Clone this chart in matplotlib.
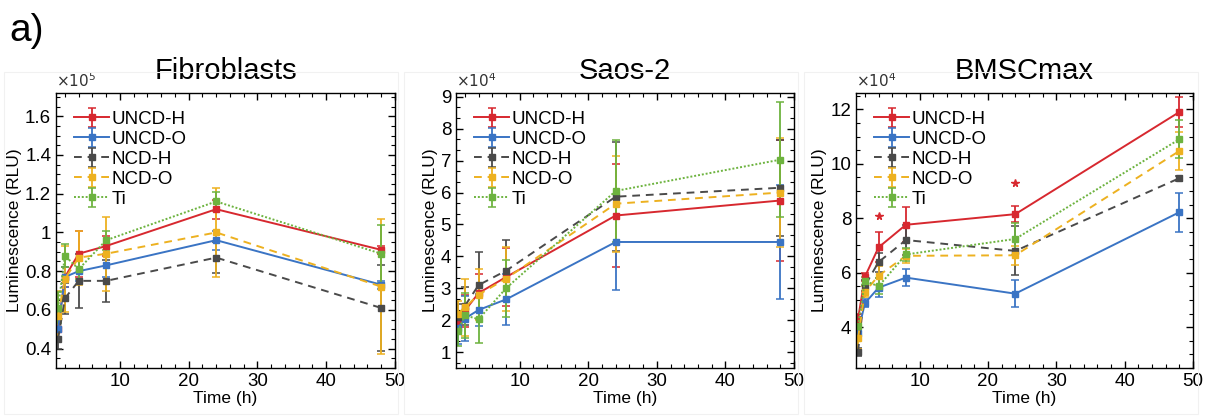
import numpy as np
import matplotlib
matplotlib.use("Agg")
from matplotlib import pyplot as plt
from matplotlib.ticker import MultipleLocator, AutoMinorLocator, FuncFormatter
from matplotlib.patches import Rectangle

plt.rcParams['font.family'] = ['Liberation Sans', 'DejaVu Sans']

time_h = [1, 2, 4, 8, 24, 48]
series_names = ["UNCD-H", "UNCD-O", "NCD-H", "NCD-O", "Ti"]

# Fibroblasts (x1e5 RLU)
fib_uncd_h = [0.50, 0.77, 0.89, 0.93, 1.12, 0.91]
fib_uncd_o = [0.50, 0.77, 0.80, 0.83, 0.96, 0.73]
fib_ncd_h = [0.45, 0.66, 0.75, 0.75, 0.87, 0.61]
fib_ncd_o = [0.57, 0.76, 0.87, 0.89, 1.00, 0.72]
fib_ti = [0.61, 0.88, 0.81, 0.96, 1.16, 0.89]
fib_uncd_h_err = [0.06, 0.05, 0.12, 0.05, 0.05, 0.02]
fib_uncd_o_err = [0.06, 0.05, 0.05, 0.06, 0.05, 0.02]
fib_ncd_h_err = [0.05, 0.08, 0.14, 0.11, 0.08, 0.22]
fib_ncd_o_err = [0.13, 0.17, 0.14, 0.19, 0.23, 0.35]
fib_ti_err = [0.08, 0.06, 0.05, 0.05, 0.05, 0.15]

# Saos-2 (x1e4 RLU)
sao_uncd_h = [1.90, 2.30, 2.85, 3.35, 5.28, 5.75]
sao_uncd_o = [1.75, 2.05, 2.32, 2.65, 4.45, 4.45]
sao_ncd_h = [2.10, 2.45, 3.10, 3.55, 5.87, 6.15]
sao_ncd_o = [2.20, 2.40, 2.80, 3.30, 5.65, 6.00]
sao_ti = [1.65, 2.15, 2.03, 3.00, 6.05, 7.03]
sao_uncd_h_err = [0.30, 0.50, 0.60, 0.90, 1.60, 1.90]
sao_uncd_o_err = [0.50, 0.70, 0.50, 0.80, 1.50, 1.80]
sao_ncd_h_err = [0.40, 0.60, 1.05, 0.95, 1.70, 1.50]
sao_ncd_o_err = [0.40, 0.90, 0.80, 1.00, 1.50, 1.70]
sao_ti_err = [0.45, 0.70, 0.75, 0.90, 1.60, 1.80]

# BMSCmax (x1e4 RLU)
bm_uncd_h = [4.30, 5.85, 6.93, 7.76, 8.15, 11.90]
bm_uncd_o = [3.80, 4.88, 5.45, 5.82, 5.23, 8.22]
bm_ncd_h = [3.10, 5.52, 6.39, 7.20, 6.80, 9.47]
bm_ncd_o = [3.60, 5.30, 5.89, 6.62, 6.64, 10.47]
bm_ti = [4.05, 5.70, 5.50, 6.67, 7.24, 10.90]
bm_uncd_h_err = [0.20, 0.15, 0.55, 0.65, 0.30, 0.55]
bm_uncd_o_err = [0.20, 0.15, 0.35, 0.30, 0.50, 0.72]
bm_ncd_h_err = [0.15, 0.20, 0.35, 0.55, 0.90, 0.10]
bm_ncd_o_err = [0.40, 0.20, 0.35, 0.25, 0.35, 0.70]
bm_ti_err = [0.30, 0.15, 0.30, 0.25, 0.60, 0.70]
bm_star_time = [4, 24]
bm_star_y = [8.1, 9.28]

colors = ['#D7282F', '#3A74C4', '#4A4A4A', '#EDB120', '#6DB33F']
styles = ['-', '-', (0, (4, 3)), (0, (4, 3)), (0, (1, 1))]

panels = [
    ("Fibroblasts", 5, [fib_uncd_h, fib_uncd_o, fib_ncd_h, fib_ncd_o, fib_ti],
     [fib_uncd_h_err, fib_uncd_o_err, fib_ncd_h_err, fib_ncd_o_err, fib_ti_err],
     (0.30, 1.72), 0.2, 4),
    ("Saos-2", 4, [sao_uncd_h, sao_uncd_o, sao_ncd_h, sao_ncd_o, sao_ti],
     [sao_uncd_h_err, sao_uncd_o_err, sao_ncd_h_err, sao_ncd_o_err, sao_ti_err],
     (0.5, 9.12), 1, 3),
    ("BMSCmax", 4, [bm_uncd_h, bm_uncd_o, bm_ncd_h, bm_ncd_o, bm_ti],
     [bm_uncd_h_err, bm_uncd_o_err, bm_ncd_h_err, bm_ncd_o_err, bm_ti_err],
     (2.5, 12.6), 2, 4),
]

W, H = 1209, 418
fig = plt.figure(figsize=(W / 100, H / 100), dpi=100)

lefts = [56, 456, 856]
rights = [395, 794, 1193]
top_px, bot_px = 93, 368

# faint frames around each panel
for i in range(3):
    fig.patches.append(Rectangle(((4 + 400 * i) / W, 4 / H), 394 / W, (H - 76) / H,
                                 transform=fig.transFigure, fill=False,
                                 edgecolor='#f1f1f1', linewidth=0.8))

fig.text(9 / W, 1 - 31 / H, "a)", fontsize=28, va='center', ha='left')

for i, (title, expo, ys, errs, ylim, major, nminor) in enumerate(panels):
    ax = fig.add_axes([lefts[i] / W, 1 - bot_px / H, (rights[i] - lefts[i]) / W,
                       (bot_px - top_px) / H])
    for k in range(5):
        ax.errorbar(time_h, ys[k], yerr=errs[k], color=colors[k], linestyle=styles[k],
                    linewidth=1.4, marker='s', markersize=4.5, capsize=2.8,
                    elinewidth=1.3, capthick=1.1, label=series_names[k])
    if title == "BMSCmax":
        ax.plot(bm_star_time, bm_star_y, linestyle='none', marker='*', color='#D7282F',
                markersize=5.5)
    ax.set_xlim(0.7, 50)
    ax.set_ylim(*ylim)
    ax.xaxis.set_major_locator(MultipleLocator(10))
    ax.xaxis.set_minor_locator(MultipleLocator(2))
    ax.yaxis.set_major_locator(MultipleLocator(major))
    ax.yaxis.set_minor_locator(AutoMinorLocator(nminor))
    ax.yaxis.set_major_formatter(FuncFormatter(lambda v, p: "%g" % round(v, 3)))
    ax.tick_params(which='both', direction='in', top=True, right=True, labelsize=13.5)
    ax.tick_params(which='major', length=5, width=1.0)
    ax.tick_params(which='minor', length=3, width=0.8)
    for s in ax.spines.values():
        s.set_linewidth(1.0)
    ax.set_xlabel("Time (h)", fontsize=12.5, labelpad=1)
    ax.set_ylabel("Luminescence (RLU)", fontsize=12.5, labelpad=2)
    ax.set_title(title, fontsize=21, pad=10)
    ax.text(0.0, 1.012, r"$\times 10^{%d}$" % expo, transform=ax.transAxes,
            fontsize=11, ha='left', va='bottom', color='#333333')
    ax.legend(loc='upper left', frameon=False, fontsize=13.5, handlelength=1.9,
              handletextpad=0.1, labelspacing=0.15, borderaxespad=0.55)

fig.savefig("out.png", dpi=100)
